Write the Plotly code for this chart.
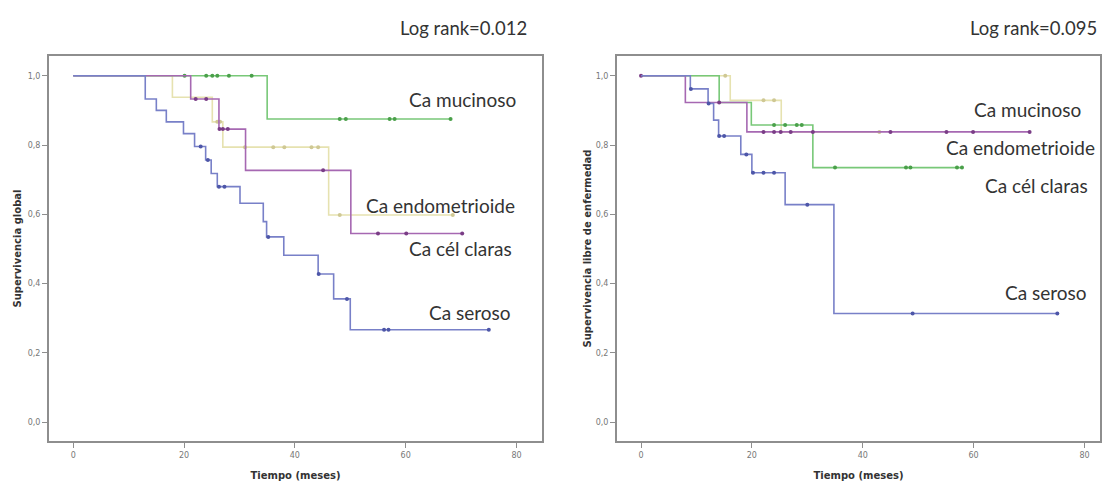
import numpy as np
import plotly.graph_objects as go

# ---------------- data: left panel (Supervivencia global) ----------------
L_seroso_t = [13.0, 15.0, 16.8, 19.9, 21.9, 23.9, 24.9, 26.0, 30.1, 34.3, 34.9, 38.0, 44.2, 47.0, 50.0]
L_seroso_s = [0.933, 0.900, 0.867, 0.833, 0.796, 0.757, 0.718, 0.680, 0.632, 0.579, 0.535, 0.482, 0.428, 0.356, 0.267]
L_seroso_c = [23.0, 24.3, 26.3, 27.3, 35.2, 44.3, 49.4, 56.1, 56.9, 75.0]

L_mucinoso_t = [35.0]
L_mucinoso_s = [0.875]
L_mucinoso_c = [20.1, 24.0, 25.1, 26.0, 28.1, 32.2, 48.1, 49.2, 57.1, 58.0, 68.1]

L_celclaras_t = [21.2, 26.3, 31.1, 50.1]
L_celclaras_s = [0.933, 0.846, 0.727, 0.545]
L_celclaras_c = [22.1, 24.0, 26.4, 27.0, 27.9, 45.1, 55.0, 60.1, 70.2]

L_endom_t = [17.9, 25.1, 27.0, 46.1]
L_endom_s = [0.938, 0.867, 0.794, 0.598]
L_endom_c = [26.0, 26.5, 31.0, 36.1, 38.1, 43.0, 44.2, 48.1, 68.5]

# ---------------- data: right panel (Supervivencia libre de enfermedad) ----------------
R_seroso_t = [8.9, 12.1, 13.1, 14.0, 18.0, 20.0, 26.0, 34.8]
R_seroso_s = [0.962, 0.920, 0.872, 0.826, 0.773, 0.720, 0.628, 0.314]
R_seroso_c = [9.0, 12.2, 14.1, 15.0, 19.0, 20.2, 22.1, 24.0, 30.0, 49.0, 75.1]

R_verde_t = [14.1, 19.9, 31.0]
R_verde_s = [0.923, 0.858, 0.735]
R_verde_c = [24.0, 26.0, 28.1, 29.0, 35.0, 47.8, 48.6, 57.0, 57.9]

R_morado_t = [8.0, 19.1]
R_morado_s = [0.923, 0.838]
R_morado_c = [0.0, 14.1, 22.1, 24.0, 25.2, 27.0, 31.0, 45.0, 55.1, 59.9, 70.1]

R_amarillo_t = [16.1, 25.3]
R_amarillo_s = [0.929, 0.838]
R_amarillo_c = [15.2, 22.1, 24.0, 43.0]

titles = ["Log rank=0.012", "Log rank=0.095"]
y_titles = ["Supervivencia global", "Supervivencia libre de enfermedad"]
x_title = "Tiempo (meses)"
x_ticks = [0, 20, 40, 60, 80]
y_ticks = [0.0, 0.2, 0.4, 0.6, 0.8, 1.0]

L_labels = ["Ca mucinoso", "Ca endometrioide", "Ca cél claras", "Ca seroso"]
R_labels = ["Ca mucinoso", "Ca endometrioide", "Ca cél claras", "Ca seroso"]

# ---------------- styles ----------------
BLUE = ("#7880c8", "#4d56a8")
GREEN = ("#78c878", "#4aa04a")
PURPLE = ("#a668b2", "#7a3d86")
YELLOW = ("#e6e2b0", "#cfc894")

fig = go.Figure()


def add_km(t, s, cens, colors, name, xa, ya):
    end = max([max(t)] + list(cens))
    xs = [0.0] + list(t) + [end]
    ys = [1.0] + list(s) + [s[-1]]
    fig.add_trace(go.Scatter(x=xs, y=ys, mode="lines", line=dict(shape="hv", color=colors[0], width=1.6),
                             name=name, xaxis=xa, yaxis=ya, showlegend=False, hoverinfo="skip"))
    tt = np.array(t)
    ss = np.array([1.0] + list(s))
    idx = np.searchsorted(tt, np.array(cens), side="right")
    cy = ss[idx]
    fig.add_trace(go.Scatter(x=cens, y=cy, mode="markers", marker=dict(color=colors[1], size=4),
                             name=name + " censurado", xaxis=xa, yaxis=ya, showlegend=False))


add_km(L_endom_t, L_endom_s, L_endom_c, YELLOW, "Ca endometrioide", "x", "y")
add_km(L_mucinoso_t, L_mucinoso_s, L_mucinoso_c, GREEN, "Ca mucinoso", "x", "y")
add_km(L_celclaras_t, L_celclaras_s, L_celclaras_c, PURPLE, "Ca cél claras", "x", "y")
add_km(L_seroso_t, L_seroso_s, L_seroso_c, BLUE, "Ca seroso", "x", "y")

add_km(R_amarillo_t, R_amarillo_s, R_amarillo_c, YELLOW, "amarillo", "x2", "y2")
add_km(R_verde_t, R_verde_s, R_verde_c, GREEN, "verde", "x2", "y2")
add_km(R_morado_t, R_morado_s, R_morado_c, PURPLE, "morado", "x2", "y2")
add_km(R_seroso_t, R_seroso_s, R_seroso_c, BLUE, "Ca seroso", "x2", "y2")

W, H = 1103, 486
ydom = [1 - 441 / H, 1 - 56 / H]

axis_common = dict(showgrid=False, zeroline=False, showline=True, mirror=True,
                   linecolor="#8e8e8e", linewidth=2, ticks="outside", ticklen=5,
                   tickcolor="#8e8e8e", tickwidth=1,
                   tickfont=dict(family="DejaVu Sans", size=8, color="#777777"))
tfont = dict(family="DejaVu Sans", size=10, color="#333")

fig.update_layout(
    width=W, height=H, margin=dict(l=0, r=0, t=0, b=0),
    paper_bgcolor="white", plot_bgcolor="white", separators=",.",
    xaxis=dict(domain=[49 / W, 542 / W], range=[-4.37, 84.6], tickvals=x_ticks, anchor="y",
               title=dict(text="<b>" + x_title + "</b>", font=tfont, standoff=13), **axis_common),
    yaxis=dict(domain=ydom, range=[-0.054, 1.057], tickvals=y_ticks, tickformat=".1f", anchor="x",
               title=dict(text="<b>" + y_titles[0] + "</b>", font=tfont, standoff=4), **axis_common),
    xaxis2=dict(domain=[617 / W, 1100 / W], range=[-4.33, 82.8], tickvals=x_ticks, anchor="y2",
                title=dict(text="<b>" + x_title + "</b>", font=tfont, standoff=13), **axis_common),
    yaxis2=dict(domain=ydom, range=[-0.054, 1.057], tickvals=y_ticks, tickformat=".1f", anchor="x2",
                title=dict(text="<b>" + y_titles[1] + "</b>", font=tfont, standoff=2), **axis_common),
)

lab_font = dict(family="Lato", size=19, color="#333333")
title_font = dict(family="Lato", size=18.5, color="#333333")


def ann(txt, px, py, font):
    fig.add_annotation(x=px / W, y=1 - py / H, xref="paper", yref="paper", text=txt, showarrow=False,
                       font=font, xanchor="center", yanchor="middle")


ann(titles[0], 463, 28, title_font)
ann(titles[1], 1033, 28, title_font)

L_pos = [(462, 100), (440, 205), (460, 248), (470, 312)]
R_pos = [(1027, 110), (1020, 147), (1036, 185), (1046, 292)]
for txt, (px, py) in zip(L_labels, L_pos):
    ann(txt, px, py, lab_font)
for txt, (px, py) in zip(R_labels, R_pos):
    ann(txt, px, py, lab_font)

fig.write_html("out.html")
